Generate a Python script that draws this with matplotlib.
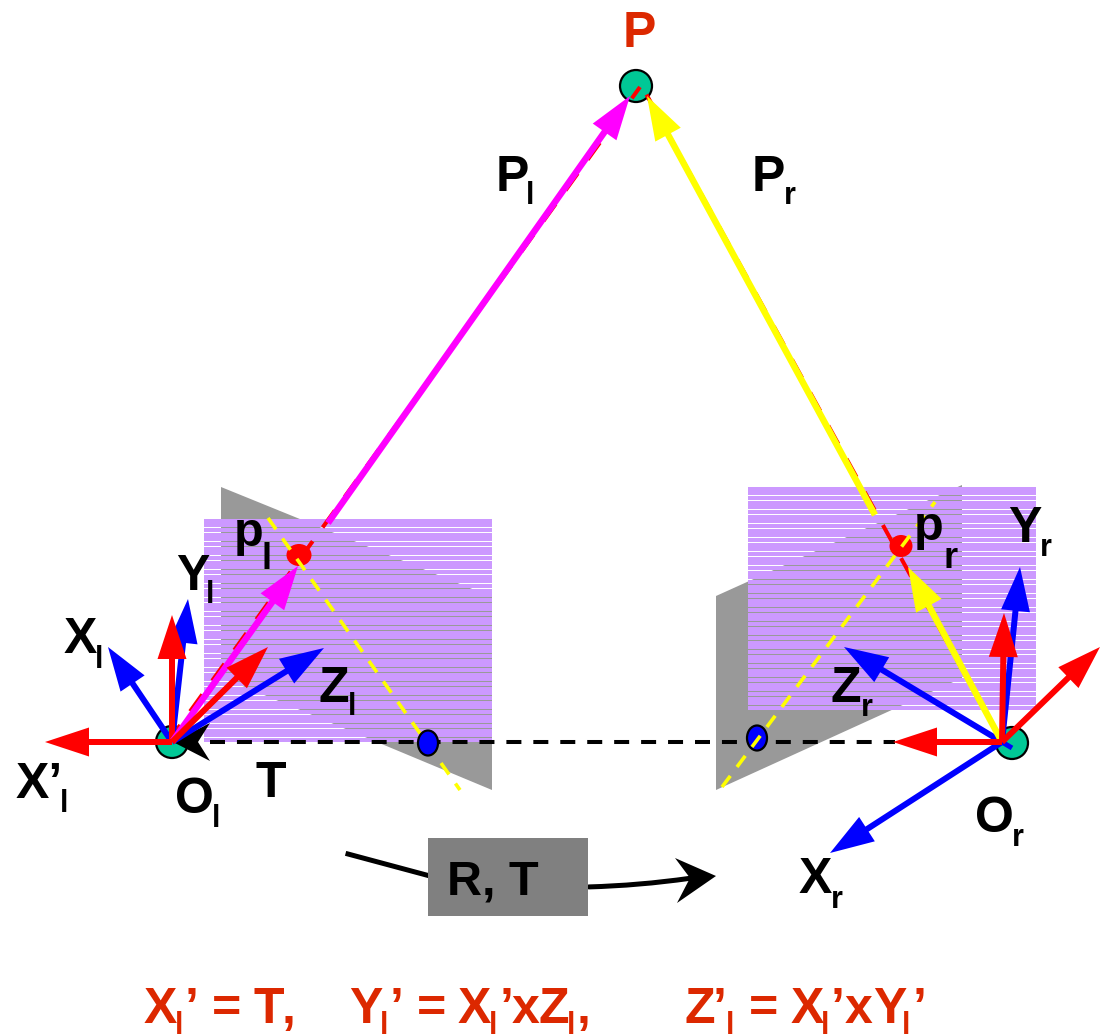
import numpy as np
from matplotlib import pyplot as plt
from matplotlib.patches import Ellipse, Polygon, Rectangle, FancyArrowPatch

plt.rcParams['font.family'] = ['Liberation Sans', 'DejaVu Sans']
plt.rcParams['lines.scale_dashes'] = False

# everything below is in picture pixels
RED = '#ff0000'
BLUE = '#0000ff'
MAGENTA = '#ff00ff'
YELLOW = '#ffff00'
TEAL = '#00c896'
GREY = '#999999'
PURPLE = '#cc99ff'
TEXTRED = '#dc2800'

# image planes
plane_left = [(221, 487), (492, 597), (492, 790), (221, 677)]
plane_right = [(716, 596), (962, 485), (962, 678), (716, 790)]
sheet_left = (204, 492, 519, 742)
sheet_right = (748, 1036, 487, 709)

# origins and scene point
origin_left = (172, 742)
origin_right = (1002, 742)
scene_point = (636, 86)
centre_right = (1012, 743)
point_l = (299, 555)
point_r = (901, 546)
epipole_l = (428, 743)
epipole_r = (757, 738)

# rays, start and end
ray_left = ((168, 742), (640, 87))
ray_right = (origin_right, (644, 90))

# arrows: start, tip, colour
back_arrows = [
    ((328, 523), (630, 96), MAGENTA),
    ((875, 515), (647, 96), YELLOW),
]
left_arrows = [
    (origin_left, (188, 599), BLUE),
    (origin_left, (108, 647), BLUE),
    (origin_left, (172, 615), RED),
    (origin_left, (324, 648), BLUE),
    (origin_left, (298, 566), MAGENTA),
    (origin_left, (268, 647), RED),
    (origin_left, (45, 742), RED),
]
right_arrows = [
    (origin_right, (1020, 567), BLUE),
    (origin_right, (844, 647), BLUE),
    (origin_right, (830, 853), BLUE),
    (origin_right, (908, 567), YELLOW),
    (origin_right, (1004, 613), RED),
    (origin_right, (1100, 647), RED),
    (origin_right, (893, 742), RED),
]

# labels: text, x, baseline, size, colour
labels = [
    ('P', 623, 47, 36, TEXTRED),
    ('P', 496, 191, 36, 'k'), ('l', 526, 204, 22, 'k'),
    ('P', 752, 191, 36, 'k'), ('r', 784, 204, 22, 'k'),
    ('p', 234, 546, 35, 'k'), ('l', 262, 569, 26, 'k'),
    ('Y', 176, 590, 36, 'k'), ('l', 206, 603, 22, 'k'),
    ('X', 64, 653, 36, 'k'), ('l', 95, 668, 22, 'k'),
    ('Z', 319, 702, 36, 'k'), ('l', 348, 715, 22, 'k'),
    ('X’', 16, 798, 36, 'k'), ('l', 60, 812, 22, 'k'),
    ('O', 175, 813, 36, 'k'), ('l', 212, 827, 22, 'k'),
    ('T', 256, 797, 36, 'k'),
    ('Y', 1008, 542, 36, 'k'), ('r', 1040, 556, 22, 'k'),
    ('p', 914, 540, 35, 'k'), ('r', 943, 568, 26, 'k'),
    ('Z', 831, 702, 36, 'k'), ('r', 861, 716, 22, 'k'),
    ('O', 975, 832, 36, 'k'), ('r', 1012, 846, 22, 'k'),
    ('X', 799, 893, 36, 'k'), ('r', 831, 908, 22, 'k'),
    ('R, T', 447, 895, 35, 'k'),
]

# bottom row, piece by piece: text, x, size
formula_base = 1023
formula_sub_base = 1033.5
formula = [
    ('X', 144, 36), ('l', 175, 22), ('’', 185, 36), ('=', 212, 36),
    ('T', 253, 36), (',', 282, 36),
    ('Y', 349, 36), ('l', 380, 22), ('’', 390, 36), ('=', 417, 36),
    ('X', 458, 36), ('l', 489, 22), ('’', 500, 36), ('x', 512, 36),
    ('Z', 539, 36), ('l', 567, 22), (',', 577, 36),
    ('Z', 684, 36), ('’', 713, 36), ('l', 726, 22), ('=', 749, 36),
    ('X', 791, 36), ('l', 821, 22), ('’', 831, 36), ('x', 845, 36),
    ('Y', 873, 36), ('l', 902, 22), ('’', 913, 36),
]


def arrow(ax, start, tip, colour, z, width=6.0):
    ax.arrow(start[0], start[1], tip[0] - start[0], tip[1] - start[1],
             width=width, head_width=29, head_length=44,
             length_includes_head=True, color=colour, linewidth=0, zorder=z)


def stripes(ax, box, z):
    # the sheet is a purple fill with thin see-through lines
    ys = np.arange(box[2] + 1.8, box[3], 14 / 3)
    ax.hlines(ys, box[0], box[1], colors=PURPLE, linewidth=2.75,
              antialiased=False, zorder=z)


fig = plt.figure(figsize=(11.09, 10.34), dpi=100)
ax = fig.add_axes([0, 0, 1, 1])
ax.set_xlim(0, 1109)
ax.set_ylim(1034, 0)
ax.axis('off')

ax.add_patch(Polygon(plane_left, closed=True, fc=GREY, ec='none', zorder=1))
ax.add_patch(Polygon(plane_right, closed=True, fc=GREY, ec='none', zorder=1))

stripes(ax, sheet_left, 2)
stripes(ax, sheet_right, 2)

# teal centres
ax.add_patch(Ellipse(origin_left, 32, 32, fc=TEAL, ec='k', lw=1.6, zorder=3))
ax.add_patch(Ellipse(centre_right, 32, 32, fc=TEAL, ec='k', lw=1.6, zorder=3))
ax.add_patch(Ellipse(scene_point, 32, 32, fc=TEAL, ec='k', lw=1.6, zorder=3))

# rays to P
for ray in (ray_left, ray_right):
    ax.plot([ray[0][0], ray[1][0]], [ray[0][1], ray[1][1]], color=RED,
            linewidth=2.9, dashes=(15, 12.2), dash_capstyle='butt', zorder=4)
for start, tip, colour in back_arrows:
    arrow(ax, start, tip, colour, 5, width=6.5)

# baseline T and its head
ax.plot([210, 895], [742, 742], color='k', linewidth=2.9,
        dashes=(10.8, 8.6), dash_capstyle='butt', zorder=6)
ax.add_patch(Polygon([(210, 723), (173, 742), (210, 761), (198, 742)],
                     closed=True, fc='k', ec='none', zorder=7))

# epipolar lines
ax.plot([268, 460], [518, 790], color=YELLOW, linewidth=2.6,
        dashes=(10, 8), dash_capstyle='butt', zorder=7)
ax.add_patch(Ellipse(epipole_l, 20, 25, fc=BLUE, ec='k', lw=1.6, zorder=8))
ax.add_patch(Ellipse(epipole_r, 20, 25, fc=BLUE, ec='k', lw=1.6, zorder=8))
ax.plot([722, 935], [787, 502], color=YELLOW, linewidth=2.6,
        dashes=(10, 8), dash_capstyle='butt', zorder=9)

ax.add_patch(Ellipse(point_l, 25, 22, fc=RED, ec='none', zorder=6))
ax.add_patch(Ellipse(point_r, 23, 22, fc=RED, ec='none', zorder=6))

# small stub of the blue axis over the right centre
ax.plot([1002, 1012], [742, 748], color=BLUE, linewidth=3.6,
        solid_capstyle='butt', zorder=9)

for i, (start, tip, colour) in enumerate(left_arrows):
    arrow(ax, start, tip, colour, 10 + i * 0.1, width=6.5 if colour == MAGENTA else 6)
for i, (start, tip, colour) in enumerate(right_arrows):
    arrow(ax, start, tip, colour, 10 + i * 0.1, width=6.5 if colour == YELLOW else 6)

# R, T box with its curved arrow
ax.plot([348, 430], [854, 876], color='k', linewidth=3.6, zorder=2)
ax.add_patch(FancyArrowPatch((586, 887), (692, 878), arrowstyle='-',
                             connectionstyle='arc3,rad=0.03', color='k',
                             linewidth=3.6, zorder=2))
ax.add_patch(Polygon([(716, 876), (675, 858), (690, 878), (677, 903)],
                     closed=True, fc='k', ec='none', zorder=3))
ax.add_patch(Rectangle((428, 838), 160, 78, fc='#808080', ec='none', zorder=4))

for txt, x, y, size, colour in labels:
    ax.text(x, y, txt, fontsize=size, fontweight='bold', color=colour,
            ha='left', va='baseline', zorder=20)
for txt, x, size in formula:
    y = formula_sub_base if size == 22 else formula_base
    ax.text(x, y, txt, fontsize=size, fontweight='bold', color=TEXTRED,
            ha='left', va='baseline', zorder=20)

fig.savefig('out.png', dpi=100)
